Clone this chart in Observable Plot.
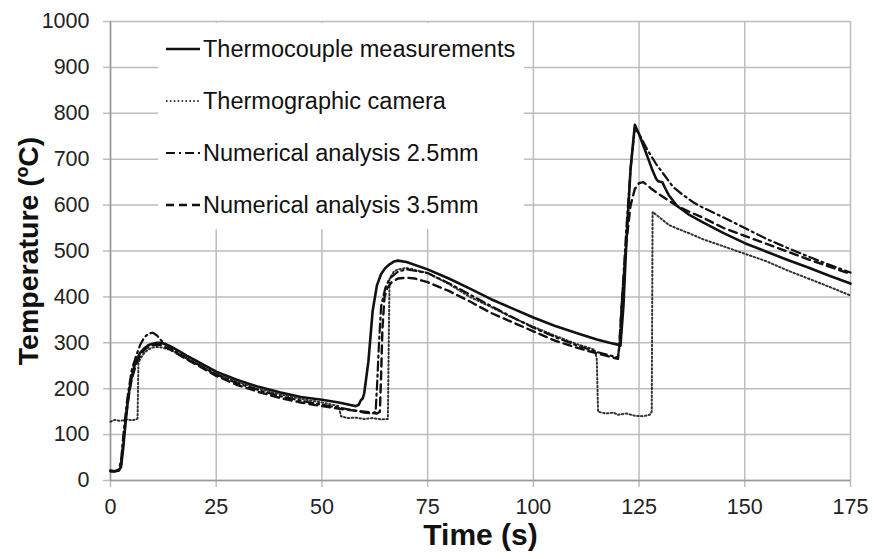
<!DOCTYPE html>
<html>
<head>
<meta charset="utf-8">
<script src="https://cdn.jsdelivr.net/npm/d3@7"></script>
<script src="https://cdn.jsdelivr.net/npm/@observablehq/plot@0.6"></script>
<style>
  html, body { margin: 0; padding: 0; background: #fff; }
  #wrap { position: relative; width: 874px; height: 559px; font-family: "Liberation Sans", Arial, sans-serif; }
  #legend { position: absolute; left: 158px; top: 23px; width: 366px; height: 206px; background: #fff; }
  .row { position: absolute; left: 0; height: 30px; display: flex; align-items: center; font-size: 23.5px; color: #111; white-space: nowrap; }
  .row svg { display: block; margin-left: 8px; margin-right: 3px; }
</style>
</head>
<body>
<div id="wrap"><div id="chart"></div><div id="legend"></div></div>
<script>
// ---- data ----
const xTicks = [0, 25, 50, 75, 100, 125, 150, 175];
const yTicks = [0, 100, 200, 300, 400, 500, 600, 700, 800, 900, 1000];
const seriesNames = ["Thermocouple measurements", "Thermographic camera", "Numerical analysis 2.5mm", "Numerical analysis 3.5mm"];

const tcTime = [0,1,2,2.5,3,3.5,4,4.5,5,5.5,6,7,8,9,10,11,12,14,16,18,20,25,30,35,40,45,50,54,57,58,58.7,59.2,59.6,60,61,62,63,64,65,66,67,68,70,75,80,85,90,95,100,105,110,115,118,120,120.6,121.3,122,123,124,125,126,127,128,129,129.5,130.5,131,132,134,137,140,145,150,155,160,165,170,175];
const tcTemp = [22,20,22,30,70,120,165,200,225,245,260,278,288,295,298,300,300,293,283,272,262,237,219,204,192,182,176,170,164,162,165,175,178,190,260,370,425,450,463,471,477,479,476,460,440,418,395,375,355,337,322,307,300,296,294,380,520,680,775,755,730,705,680,658,652,650,640,622,598,578,563,539,517,499,481,464,446,429];

const camTime = [0,1,2,3,4,5,6,6.4,6.6,7,8,9,10,11,12,14,16,18,20,25,30,35,40,45,50,54,54.5,56,58,60,62,64,65.6,65.8,66,67,68,70,75,80,85,90,95,100,105,110,114.5,115,115.3,117,119,120,122,124,126,127.5,128,128.2,130,132,134,137,140,145,150,155,160,165,170,175];
const camTemp = [128,132,130,131,133,131,133,135,255,265,278,286,290,291,290,285,276,266,257,232,215,200,188,178,170,162,140,136,137,134,136,133,134,300,440,455,460,463,452,428,400,378,355,335,316,298,285,265,150,146,148,143,146,141,140,143,150,585,572,557,549,538,526,510,494,478,458,440,422,403];

const n25Time = [0,1,2,2.5,3,3.5,4,4.5,5,6,7,8,9,10,11,12,14,16,18,20,25,30,35,40,45,50,55,58,60,62,62.7,63,63.5,64,65,66,68,70,75,80,85,90,95,100,105,110,115,120,120.3,121,122,123,124,125,127,129,131,133,135,138,140,145,150,155,160,165,170,175];
const n25Temp = [20,20,24,45,95,140,180,210,240,270,295,312,320,322,316,305,290,278,266,256,231,212,197,184,174,165,157,152,148,146,150,200,300,380,420,440,455,460,452,430,405,380,356,333,313,295,280,268,290,400,550,680,768,755,720,690,665,640,625,605,595,573,550,527,507,488,470,453];

const n35Time = [0,1,2,2.5,3,3.5,4,4.5,5,6,7,8,9,10,11,12,14,16,18,20,25,30,35,40,45,50,55,60,63,63.7,64,64.3,64.8,65.5,66.5,68,70,72,75,80,85,90,95,100,105,110,115,120,120.3,121,122,123,124,125,126,127,128,130,132,134,137,140,145,150,155,160,165,170,175];
const n35Temp = [20,20,22,35,80,125,165,195,220,252,272,285,292,295,296,295,286,275,264,254,228,208,193,180,170,162,155,150,146,150,230,330,400,420,432,440,442,440,432,413,390,365,345,325,305,290,277,265,290,400,520,600,635,648,650,643,635,622,610,598,585,573,550,533,516,499,482,466,450];

// ---- styles per series ----
const styles = [
  {stroke: "#111", strokeWidth: 2.6, dash: null},
  {stroke: "#333", strokeWidth: 2, dash: "1.5,2.4"},
  {stroke: "#111", strokeWidth: 2.2, dash: "9,4,2,4"},
  {stroke: "#111", strokeWidth: 2.4, dash: "8,5"}
];
const rawSeries = [[tcTime, tcTemp], [camTime, camTemp], [n25Time, n25Temp], [n35Time, n35Temp]];
const tables = rawSeries.map(([ts, vs], i) => ts.map((t, j) => ({t, T: vs[j], series: seriesNames[i]})));

const gridColor = "#bdbdbd";
const lineMarks = tables.map((data, i) => Plot.line(data, {
  x: "t", y: "T",
  stroke: styles[i].stroke,
  strokeWidth: styles[i].strokeWidth,
  strokeDasharray: styles[i].dash || undefined,
  curve: "linear"
}));

const chart = Plot.plot({
  width: 874,
  height: 559,
  marginLeft: 110,
  marginRight: 24,
  marginTop: 21,
  marginBottom: 79,
  style: {fontFamily: "'Liberation Sans', Arial, sans-serif", fontSize: "21px", color: "#222", background: "#fff"},
  x: {domain: [0, 175], ticks: xTicks},
  y: {domain: [0, 1000], ticks: yTicks},
  marks: [
    Plot.gridX(xTicks, {stroke: gridColor, strokeOpacity: 1, strokeWidth: 1.5}),
    Plot.gridY(yTicks, {stroke: gridColor, strokeOpacity: 1, strokeWidth: 1.5}),
    Plot.axisX(xTicks, {tickSize: 7, tickPadding: 11, stroke: gridColor, strokeWidth: 1.5, label: null, fill: "#222", fontSize: 21.5, tickFormat: d => String(d)}),
    Plot.axisY(yTicks, {tickSize: 7, tickPadding: 14, stroke: gridColor, strokeWidth: 1.5, label: null, fill: "#222", fontSize: 21.5, tickFormat: d => String(d)}),
    Plot.ruleX([0], {stroke: "#999", strokeWidth: 1.5}),
    Plot.ruleY([0], {stroke: "#999", strokeWidth: 1.5}),
    ...lineMarks,
    Plot.text(["Time (s)"], {frameAnchor: "bottom", dy: 64, fontSize: 30, fontWeight: "bold", fill: "#111"}),
    Plot.text(["Temperature (ºC)"], {frameAnchor: "left", textAnchor: "middle", dx: -82, rotate: -90, fontSize: 28.5, fontWeight: "bold", fill: "#111"})
  ]
});
document.getElementById("chart").appendChild(chart);

// ---- legend (HTML overlay inside plot frame) ----
const legend = document.getElementById("legend");
const rowTops = [11, 63, 115, 167];
seriesNames.forEach((name, i) => {
  const row = document.createElement("div");
  row.className = "row";
  row.style.top = rowTops[i] + "px";
  const s = styles[i];
  const svgNS = "http://www.w3.org/2000/svg";
  const svg = document.createElementNS(svgNS, "svg");
  svg.setAttribute("width", 34);
  svg.setAttribute("height", 10);
  const ln = document.createElementNS(svgNS, "line");
  ln.setAttribute("x1", 0); ln.setAttribute("x2", 34);
  ln.setAttribute("y1", 5); ln.setAttribute("y2", 5);
  ln.setAttribute("stroke", s.stroke);
  ln.setAttribute("stroke-width", s.strokeWidth);
  if (s.dash) ln.setAttribute("stroke-dasharray", s.dash);
  svg.appendChild(ln);
  row.appendChild(svg);
  const span = document.createElement("span");
  span.textContent = name;
  row.appendChild(span);
  legend.appendChild(row);
});
</script>
</body>
</html>
